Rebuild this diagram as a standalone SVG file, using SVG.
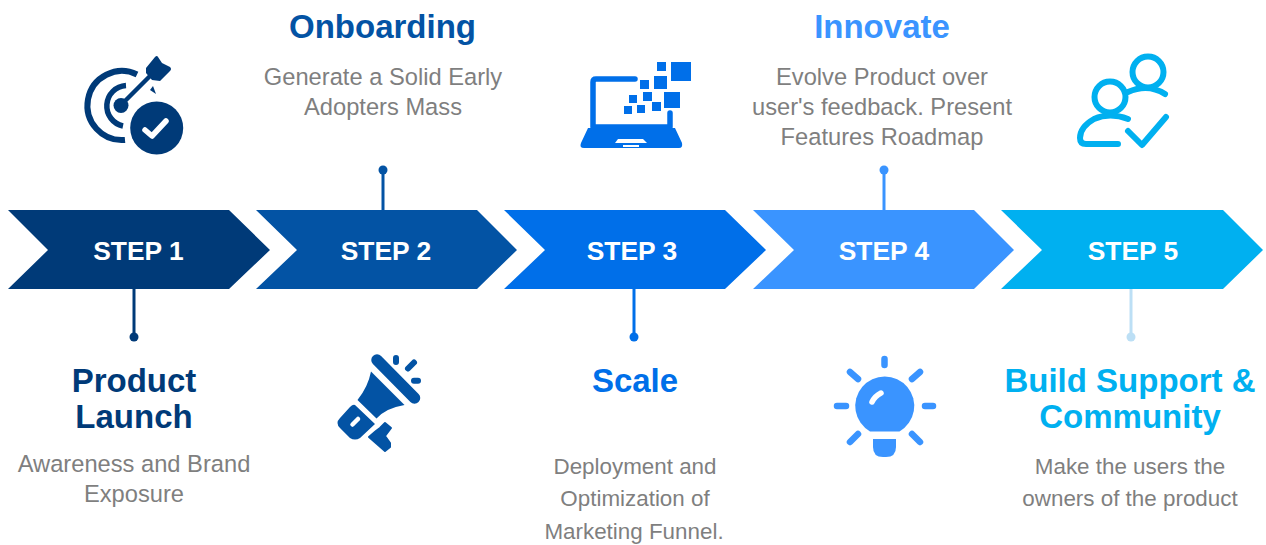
<svg xmlns="http://www.w3.org/2000/svg" width="1266" height="545" viewBox="0 0 1266 545">
<style>
text{font-family:"Liberation Sans",Arial,sans-serif;text-anchor:middle}
.s{font-size:26.400px;font-weight:700;fill:#fff}
.h{font-size:33px;font-weight:700}
.d{font-size:23.700px;fill:#7f7f7f}
.e{font-size:22.400px;fill:#7f7f7f}
.c1{fill:#003a78}.c2{fill:#0353a4}.c3{fill:#006fe9}.c4{fill:#3a94ff}.c5{fill:#00b0f0}
.l{stroke-width:3;fill:none}
.r{fill:none;stroke-linecap:round;stroke-linejoin:round}
</style>
<rect width="1266" height="545" fill="#fff"/>
<g id="connectors">
<path class="l" stroke="#003a78" d="M134 289V337"/><circle class="c1" cx="134" cy="337" r="4.500"/>
<path class="l" stroke="#0353a4" d="M383 210V170"/><circle class="c2" cx="383" cy="170" r="4.500"/>
<path class="l" stroke="#006fe9" d="M634 289V337"/><circle class="c3" cx="634" cy="337" r="4.500"/>
<path class="l" stroke="#3a94ff" d="M884 210V170"/><circle class="c4" cx="884" cy="170" r="4.500"/>
<path class="l" stroke="#bcdff5" d="M1131 289V337"/><circle cx="1131" cy="337" r="4.500" fill="#bcdff5"/>
</g>
<g id="step1"><path class="c1" d="M8 210H229L270 250L229 289H8L48 250Z"/><text class="s" x="138.500" y="260">STEP 1</text>
<text class="h c1" x="134" y="392">Product</text><text class="h c1" x="134" y="428">Launch</text>
<text class="d" x="134" y="472">Awareness and Brand</text><text class="d" x="134" y="502">Exposure</text>
<g id="icon-target" class="r" stroke="#003a78">
<path stroke-width="6" stroke-linecap="butt" d="M137 74.500A34.500 34.500 0 1 0 125 139.900"/>
<path stroke-width="5.500" stroke-linecap="butt" d="M126 85.500A20.500 20.500 0 0 0 123 126"/>
<circle cx="121" cy="105.500" r="7.500" fill="#003a78" stroke="none"/>
<path stroke-width="4.500" d="M121 105L150 76"/>
<path stroke="none" fill="#003a78" d="M146 68L155 57Q157 55 158 57L162 63L170 67Q172 69 170 71L160 81L152 80L146 73Z"/>
<path stroke="none" fill="#003a78" d="M150 90L153 86L156 94Z"/>
<circle cx="156.700" cy="128" r="26.500" fill="#003a78" stroke="none"/>
<path stroke="#fff" stroke-width="5.500" d="M145 130L152 136L166 121"/>
</g></g>
<g id="step2"><path class="c2" d="M256 210H477L517 250L477 289H256L297 250Z"/><text class="s" x="386" y="260">STEP 2</text>
<text class="h c2" x="382.500" y="38">Onboarding</text>
<text class="d" x="383" y="85">Generate a Solid Early</text><text class="d" x="383" y="115">Adopters Mass</text>
<g id="icon-megaphone">
<path class="r" stroke="#0353a4" stroke-width="11.500" d="M377 360L414.500 398"/>
<path class="c2" d="M371 371.500L404.500 405Q386 408 376.500 418.500L357.500 400Q368 387 371 371.500Z"/>
<path class="c2" d="M355 405L375 424L360 438Q355 441 350 438L340 428Q335 423 340 418L350 407Q353 404 355 405Z"/>
<path class="r" stroke="#fff" stroke-width="4.500" d="M352.500 424.500L358 419"/>
<path class="c2" stroke="#0353a4" stroke-width="2" stroke-linejoin="round" d="M376 431L380 428L385 423L391 428L385 436L390 443V447L385 451L369 437Z"/>
<path class="r" stroke="#0353a4" stroke-width="6" d="M396 358V362M408 368.500L414 362.500M414 380.700H418"/>
</g></g>
<g id="step3"><path class="c3" d="M504 210H725L766 250L725 289H504L545 250Z"/><text class="s" x="632" y="260">STEP 3</text>
<text class="h c3" x="635" y="392">Scale</text>
<text class="e" x="635" y="474">Deployment and</text><text class="e" x="635" y="506">Optimization of</text><text class="e" x="634" y="539">Marketing Funnel.</text>
<g id="icon-laptop">
<path class="r" stroke="#006fe9" stroke-width="5.500" stroke-linecap="butt" d="M635 79H596Q593 79 593 82V127H670V113"/>
<path class="c3" d="M588 128H675L682 143Q683 148 679 148H584Q579 148 581 143Z"/>
<path fill="#fff" d="M618 139H643L647 143H615Z"/><rect x="623" y="145" width="16" height="2" fill="#fff"/>
<g class="c3"><rect x="671" y="62" width="20" height="19"/><rect x="657" y="62" width="9" height="9"/><rect x="654" y="76" width="13" height="13"/><rect x="640" y="80" width="9" height="9"/><rect x="643" y="92" width="9" height="9"/><rect x="629" y="95" width="8" height="8"/><rect x="664" y="92" width="16" height="16"/><rect x="652" y="102" width="9" height="9"/><rect x="637" y="105" width="8" height="8"/><rect x="624" y="106" width="8" height="8"/></g>
</g></g>
<g id="step4"><path class="c4" d="M753 210H974L1014 250L974 289H753L794 250Z"/><text class="s" x="884" y="260">STEP 4</text>
<text class="h c4" x="882" y="38">Innovate</text>
<text class="d" x="882" y="85">Evolve Product over</text><text class="d" x="882" y="115">user's feedback. Present</text><text class="d" x="882" y="145">Features Roadmap</text>
<g id="icon-bulb">
<path class="c4" d="M870 431.500A29.500 29.500 0 1 1 899.500 431.500Z"/>
<path class="c4" d="M873 439H896V447Q896 457 886 457H883Q873 457 873 447Z"/>
<path class="r" stroke="#fff" stroke-width="5.500" d="M872 402Q875 396 881 393"/>
<path class="r" stroke="#3a94ff" stroke-width="6.500" d="M884.500 359V365M925 406H933M837 406H846M850 372L858 379M920 372L912 379M858 434L850 442M912 434L920 442"/>
</g></g>
<g id="step5"><path class="c5" d="M1001 210H1223L1263 250L1223 289H1001L1042 250Z"/><text class="s" x="1133" y="260">STEP 5</text>
<text class="h c5" x="1130" y="392">Build Support &amp;</text><text class="h c5" x="1130" y="428">Community</text>
<text class="e" x="1130" y="474">Make the users the</text><text class="e" x="1130" y="506">owners of the product</text>
<g id="icon-people" class="r" stroke="#00b0f0" stroke-width="6">
<circle cx="1148" cy="72" r="15.500"/><circle cx="1110" cy="97" r="15.500"/>
<path d="M1128 92Q1148 83 1165 94M1128 119Q1110 112 1094 119Q1080 127 1080 138Q1080 144 1086 144H1118M1128 131L1142 145L1166 117"/>
</g></g>
</svg>
